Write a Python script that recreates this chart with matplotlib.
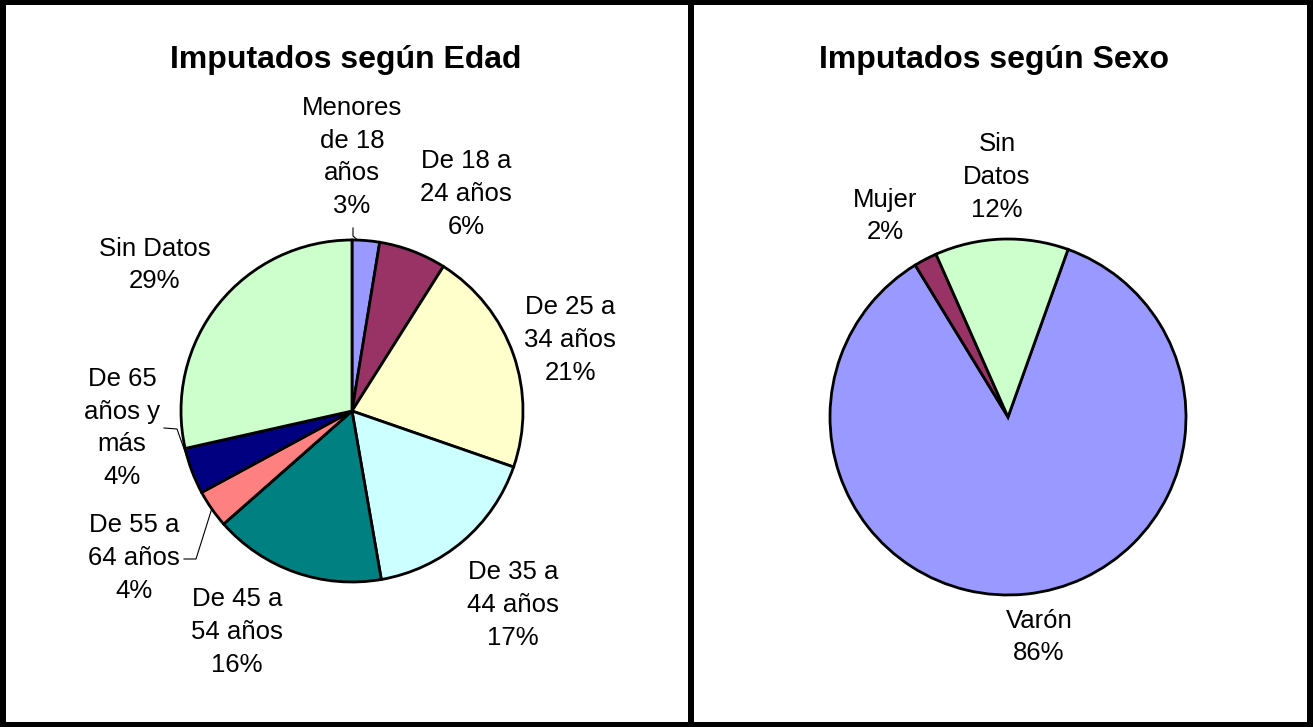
import numpy as np
import matplotlib.pyplot as plt
from matplotlib.patches import Rectangle

plt.rcParams['font.family'] = ['Liberation Sans', 'DejaVu Sans']

W, H = 1313, 727

# Imputados segun edad
edad_labels = ['Menores\nde 18\naños', 'De 18 a\n24 años', 'De 25 a\n34 años', 'De 35 a\n44 años',
               'De 45 a\n54 años', 'De 55 a\n64 años', 'De 65\naños y\nmás', 'Sin Datos']
edad_vals = [2.6, 6.4, 21.4, 17.0, 16.3, 3.6, 4.4, 28.6]
edad_colors = ['#9999FF', '#993366', '#FFFFCC', '#CCFFFF', '#008080', '#FF8080', '#000080', '#CCFFCC']

# Imputados segun sexo
sexo_labels = ['Varón', 'Mujer', 'Sin\nDatos']
sexo_vals = [85.8, 2.1, 12.1]
sexo_colors = ['#9999FF', '#993366', '#CCFFCC']

# label centres in image pixels (x, y from top)
edad_pos = [(352, 157), (466, 194), (570, 340), (513, 605), (237, 632), (134, 558), (122, 428), (155, 265)]
sexo_pos = [(1039, 637), (885, 216), (997, 177)]

fig = plt.figure(figsize=(W / 100, H / 100), dpi=100, facecolor='black')
ax = fig.add_axes([0, 0, 1, 1])

# white panels, the black figure shows through as the borders
ax.add_patch(Rectangle((6, 5), 682, 717, fc='white', ec='none', zorder=0))
ax.add_patch(Rectangle((694, 5), 613, 717, fc='white', ec='none', zorder=0))

wp = dict(edgecolor='black', linewidth=2)


def draw_pie(vals, labels, colors, pos, cx, cy, r, start):
    wedges, _ = ax.pie(vals, colors=colors, startangle=start, counterclock=False,
                       center=(cx, H - cy), radius=r, wedgeprops=wp)
    tot = sum(vals)
    for lab, v, (x, y) in zip(labels, vals, pos):
        ax.text(x, H - y, f"{lab}\n{v / tot * 100:.0f}%", ha='center', va='center',
                fontsize=18.5, linespacing=1.46)
    return wedges


def edge_pt(w, t, cx, cy, r):
    # point on the rim, t = fraction into the wedge (clockwise order)
    a = np.radians(w.theta2 - t * (w.theta2 - w.theta1))
    return cx + r * np.cos(a), H - cy + r * np.sin(a)


cx1, cy1, r1 = 352, 411, 171
w1 = draw_pie(edad_vals, edad_labels, edad_colors, edad_pos, cx1, cy1, r1, 90)
cx2, cy2, r2 = 1008, 417, 178
draw_pie(sexo_vals, sexo_labels, sexo_colors, sexo_pos, cx2, cy2, r2, 70.3)

# leader lines
leaders = [(0, 0.2, [(353, 228), (353, 236)]),
           (5, 0.5, [(184, 559), (196, 559)]),
           (6, 0.5, [(164, 428), (177, 429)])]
for i, t, pts in leaders:
    ex, ey = edge_pt(w1[i], t, cx1, cy1, r1)
    xs = [p[0] for p in pts] + [ex]
    ys = [H - p[1] for p in pts] + [ey]
    ax.plot(xs, ys, color='black', lw=0.8)

ax.text(346, H - 60, 'Imputados según Edad', ha='center', va='center', fontsize=23, fontweight='bold')
ax.text(994, H - 60, 'Imputados según Sexo', ha='center', va='center', fontsize=23, fontweight='bold')

ax.set_xlim(0, W)
ax.set_ylim(0, H)
ax.axis('off')

fig.savefig('out.png', dpi=100)
